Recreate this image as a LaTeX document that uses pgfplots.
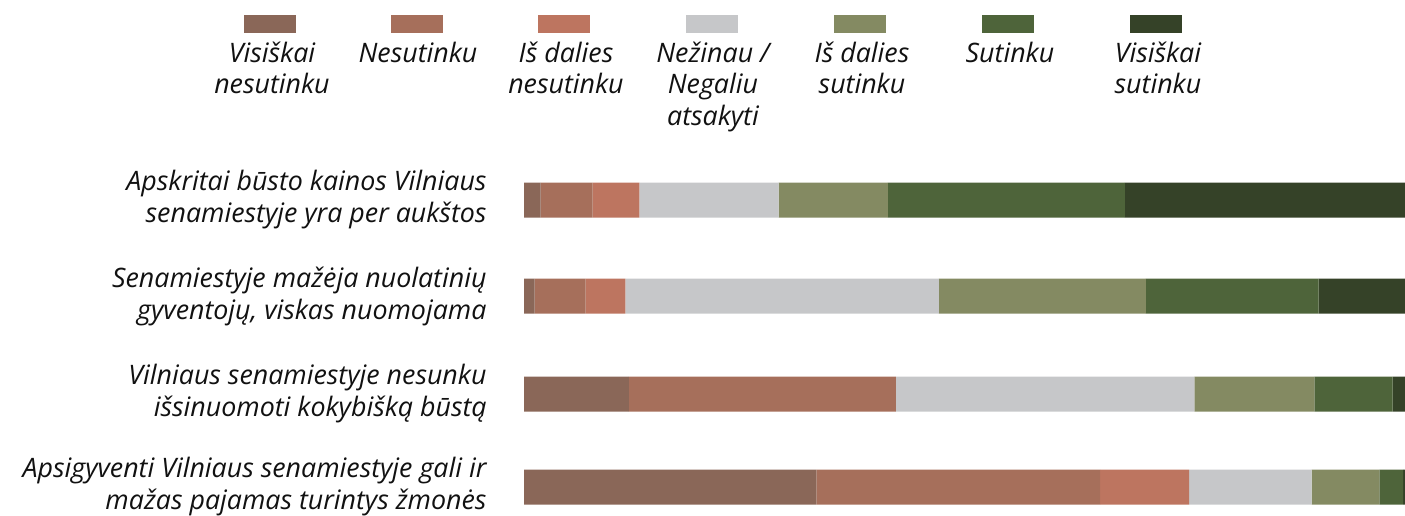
\documentclass[border=0pt]{standalone}
\usepackage{pgfplots}
\pgfplotsset{compat=1.18}
\usepackage{fontspec}
\setmainfont{Open Sans}
\definecolor{c1}{HTML}{8A6758}
\definecolor{c2}{HTML}{A66F5B}
\definecolor{c3}{HTML}{BD7560}
\definecolor{c4}{HTML}{C6C7C9}
\definecolor{c5}{HTML}{848A62}
\definecolor{c6}{HTML}{4E643A}
\definecolor{c7}{HTML}{354228}
\definecolor{tx}{HTML}{111111}
\newcommand\lf{\fontsize{13.4bp}{16bp}\selectfont\itshape}
\begin{document}
\begin{tikzpicture}
\useasboundingbox (0,0) rectangle (702.5bp,-258bp);
\begin{axis}[at={(262bp,-258bp)}, anchor=south west, scale only axis,
  width=440.5bp, height=173bp,
  xbar stacked, bar width=35,
  xmin=0, xmax=100, ymin=170, ymax=516, y dir=reverse,
  axis line style={draw=none}, tick style={draw=none},
  xtick=\empty, ytick={200,296,394,487},
  yticklabels={{Apskritai būsto kainos Vilniaus\\senamiestyje yra per aukštos},
    {Senamiestyje mažėja nuolatinių\\gyventojų, viskas nuomojama},
    {Vilniaus senamiestyje nesunku\\išsinuomoti kokybišką būstą},
    {Apsigyventi Vilniaus senamiestyje gali ir\\mažas pajamas turintys žmonės}},
  yticklabel style={align=right, anchor=east, inner sep=0pt, xshift=-18.5bp, font=\lf, text=tx},
  every axis plot/.append style={draw=none}, clip=false]
\addplot[fill=c1] coordinates {(1.9,200) (1.2,296) (11.9,394) (33.2,487)};
\addplot[fill=c2] coordinates {(5.9,200) (5.8,296) (30.3,394) (32.2,487)};
\addplot[fill=c3] coordinates {(5.3,200) (4.5,296) (0,394) (10.1,487)};
\addplot[fill=c4] coordinates {(15.8,200) (35.6,296) (33.9,394) (13.9,487)};
\addplot[fill=c5] coordinates {(12.4,200) (23.5,296) (13.6,394) (7.7,487)};
\addplot[fill=c6] coordinates {(26.9,200) (19.6,296) (8.9,394) (2.7,487)};
\addplot[fill=c7] coordinates {(31.8,200) (9.8,296) (1.4,394) (0.2,487)};
\end{axis}
\begin{scope}[x=0.5bp, y=-0.5bp, every node/.style={anchor=base, inner sep=0pt, font=\lf, text=tx}]
\foreach \cx/\col in {270/c1, 417/c2, 564/c3, 712/c4, 860/c5, 1008/c6, 1156/c7}
  \fill[\col] (\cx-26,15) rectangle (\cx+26,33);
\node at (272,62) {Visiškai};
\node at (272,94) {nesutinku};
\node at (418,62) {Nesutinku};
\node at (566,62) {Iš dalies};
\node at (566,94) {nesutinku};
\node at (713,62) {Nežinau /};
\node at (713,94) {Negaliu};
\node at (713,126) {atsakyti};
\node at (862,62) {Iš dalies};
\node at (862,94) {sutinku};
\node at (1010,62) {Sutinku};
\node at (1158,62) {Visiškai};
\node at (1158,94) {sutinku};
\end{scope}
\end{tikzpicture}
\end{document}
